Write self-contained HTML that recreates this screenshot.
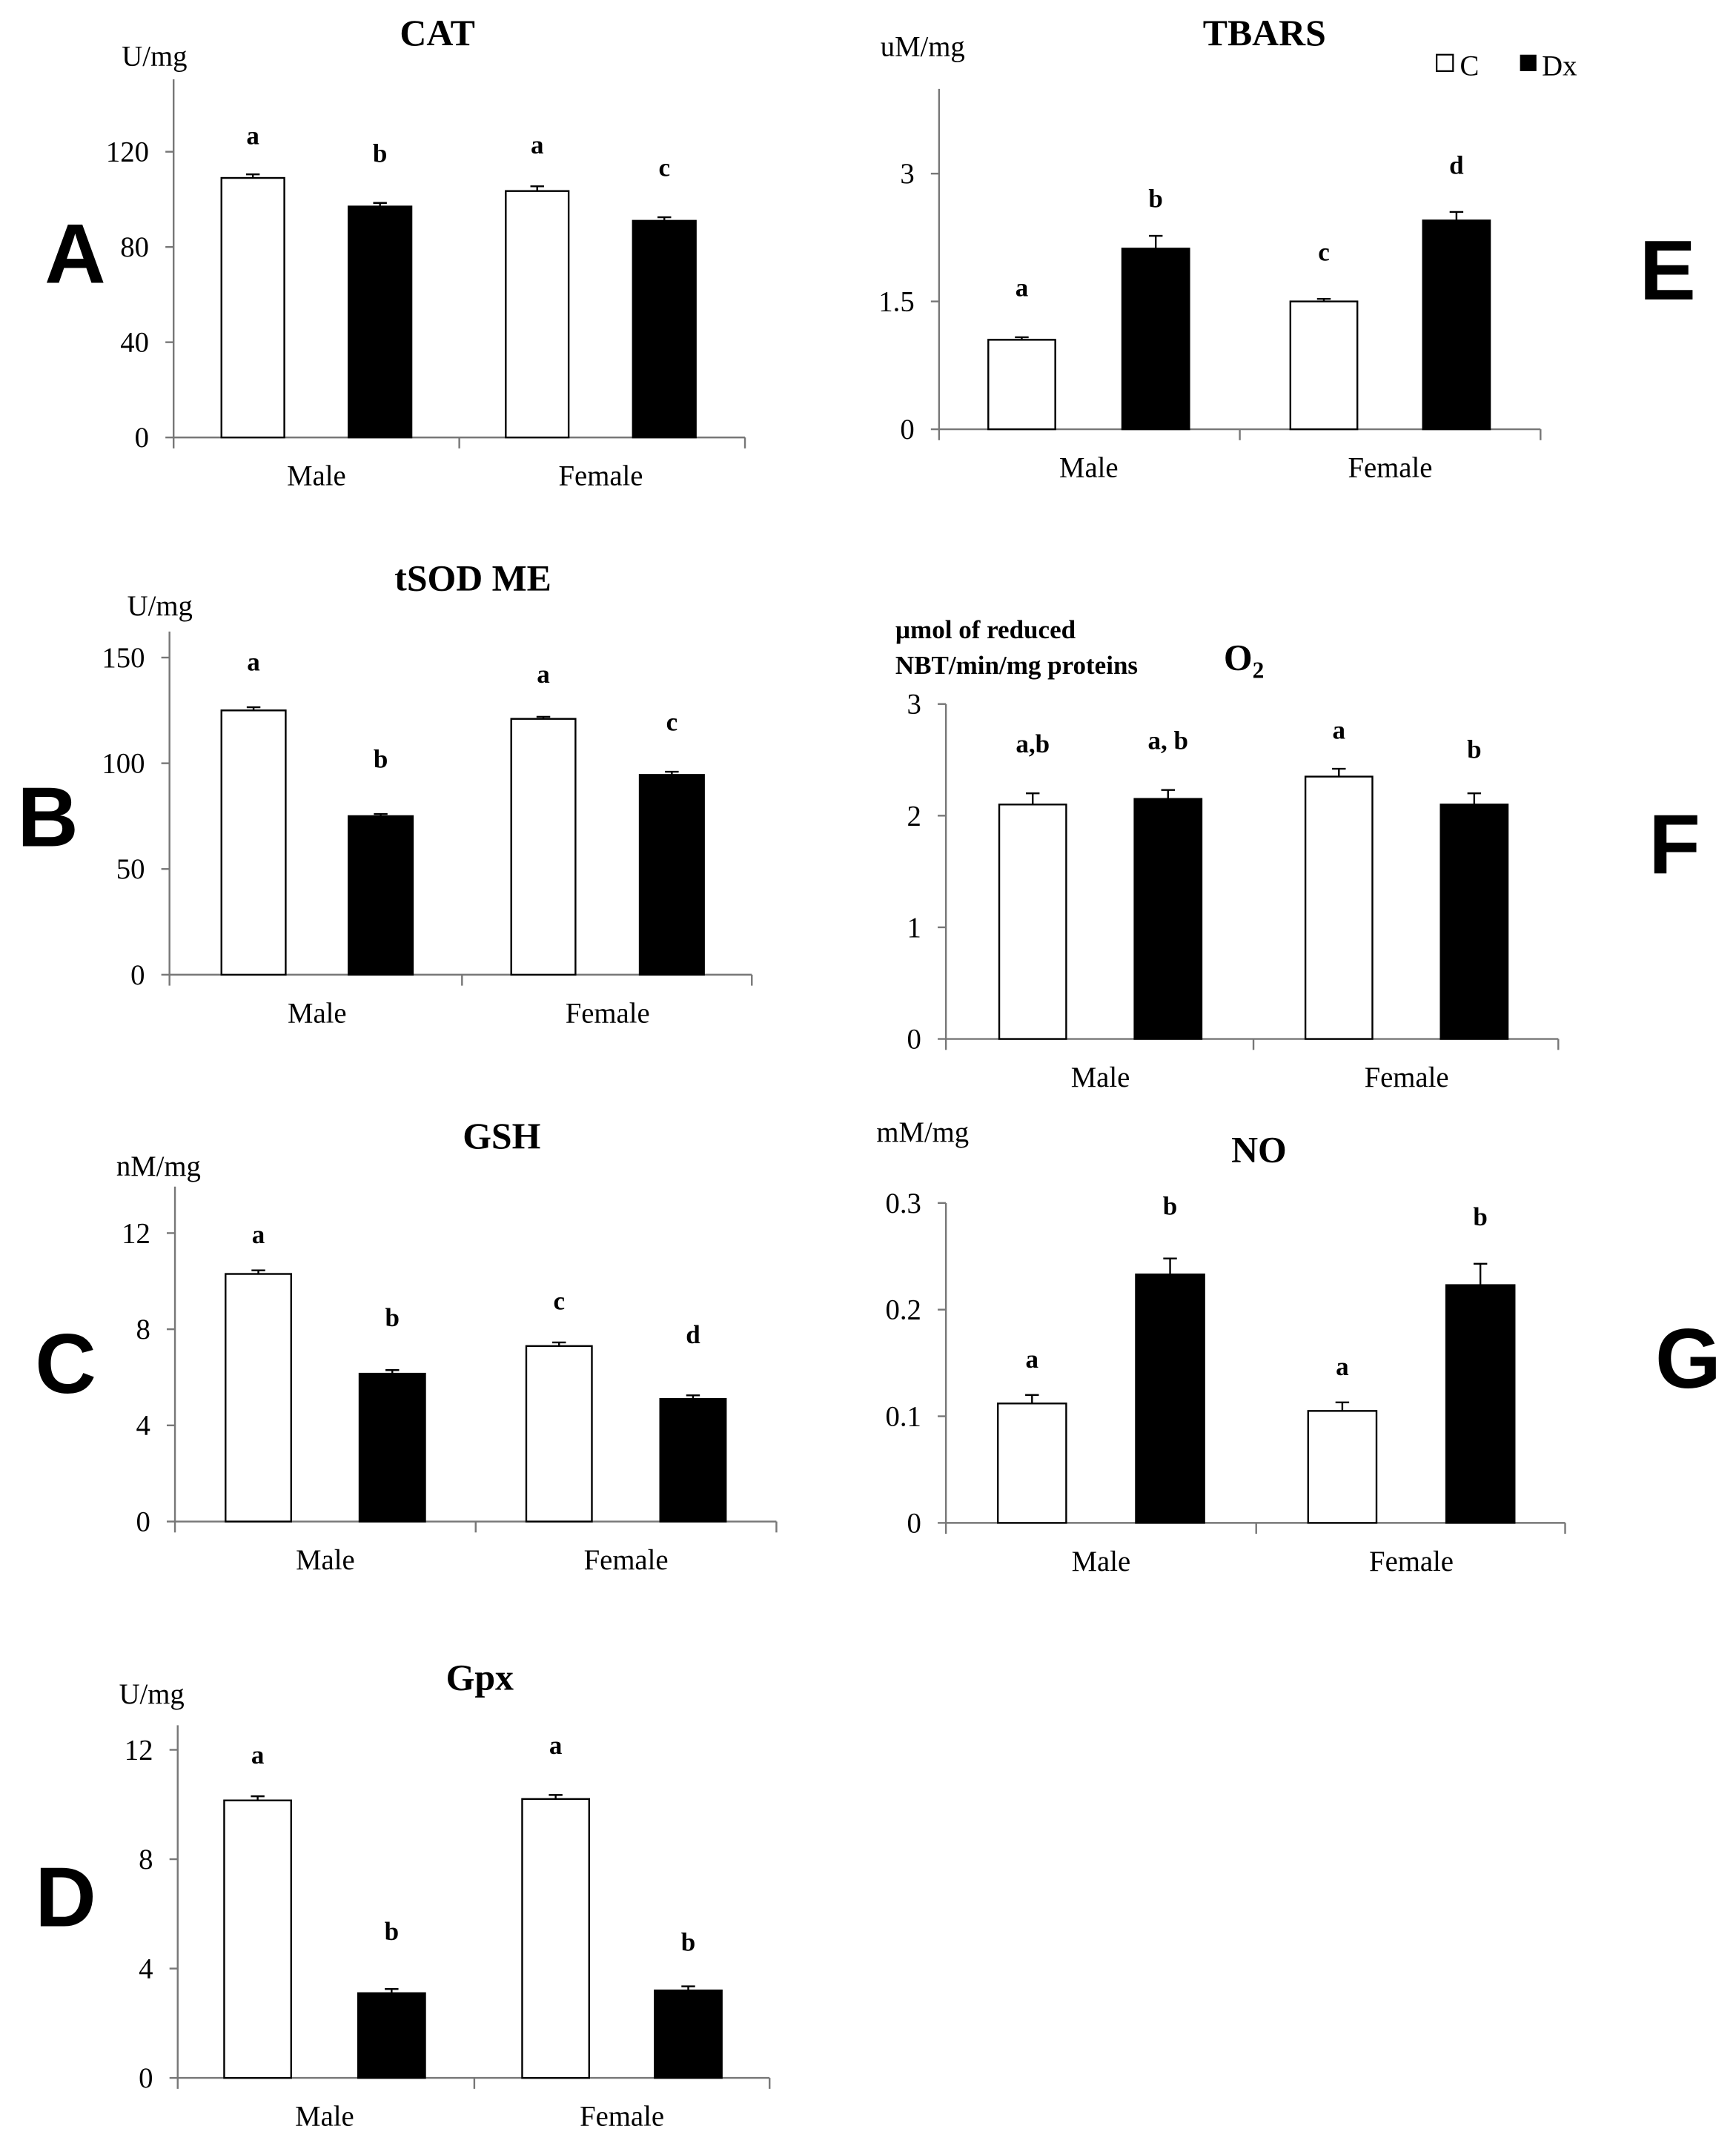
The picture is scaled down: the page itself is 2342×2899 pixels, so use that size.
<!DOCTYPE html>
<html><head><meta charset="utf-8"><style>
html,body{margin:0;padding:0;background:#fff;}
svg{display:block;}
text{font-family:"Liberation Serif",serif;fill:#000;}
.big{font-family:"Liberation Sans",sans-serif;font-weight:bold;font-size:62px;}
.title{font-weight:bold;font-size:27px;}
.lab{font-size:21px;}
.let{font-weight:bold;font-size:19px;}
</style></head><body>
<svg id="fig" width="2342" height="2899" viewBox="0 0 1270 1572" preserveAspectRatio="none" xmlns="http://www.w3.org/2000/svg"></svg>
<script>
// data per panel
const groups = ["Male","Female"];
const catValues = [109, 97, 103.5, 91];
const catErrors = [1.5, 1.5, 2, 1.5];
const catLetters = ["a","b","a","c"];
const catTicks = [0,40,80,120];
const tbarsValues = [1.05, 2.12, 1.5, 2.45];
const tbarsErrors = [0.03, 0.15, 0.03, 0.1];
const tbarsLetters = ["a","b","c","d"];
const tbarsTicks = [0,1.5,3];
const sodValues = [125, 75, 121, 94.5];
const sodErrors = [1.5, 1, 1, 1.5];
const sodLetters = ["a","b","a","c"];
const sodTicks = [0,50,100,150];
const o2Values = [2.1, 2.15, 2.35, 2.1];
const o2Errors = [0.1, 0.08, 0.07, 0.1];
const o2Letters = ["a,b","a, b","a","b"];
const o2Ticks = [0,1,2,3];
const gshValues = [10.3, 6.15, 7.3, 5.1];
const gshErrors = [0.15, 0.15, 0.15, 0.15];
const gshLetters = ["a","b","c","d"];
const gshTicks = [0,4,8,12];
const noValues = [0.112, 0.233, 0.105, 0.223];
const noErrors = [0.008, 0.015, 0.008, 0.02];
const noLetters = ["a","b","a","b"];
const noTicks = [0,0.1,0.2,0.3];
const gpxValues = [10.15, 3.1, 10.2, 3.2];
const gpxErrors = [0.15, 0.15, 0.15, 0.15];
const gpxLetters = ["a","b","a","b"];
const gpxTicks = [0,4,8,12];

const NS="http://www.w3.org/2000/svg";
const svg=document.getElementById('fig');
function mk(tag,attrs,parent,txt){const e=document.createElementNS(NS,tag);for(const k in attrs)e.setAttribute(k,attrs[k]);if(txt!==undefined)e.textContent=txt;(parent||svg).appendChild(e);return e;}

function panel(p){
  const g=mk('g',{});
  
  
  const tmax=p.ticks[p.ticks.length-1];
  const y=v=>p.y0-(v/tmax)*(p.y0-p.yTop);
  const ax=mk('line',{x1:p.ax,y1:p.axTop,x2:p.ax,y2:p.y0,stroke:'#777','stroke-width':1.3},g);
  
  
  const xa=mk('line',{x1:p.ax,y1:p.y0,x2:p.axEnd,y2:p.y0,stroke:'#777','stroke-width':1.3},g);
  
  
  [p.ax,p.mid,p.axEnd].forEach(x=>mk('line',{x1:x,y1:p.y0,x2:x,y2:p.y0+8,stroke:'#777','stroke-width':1.3},g));
  p.ticks.forEach(t=>{
    mk('line',{x1:p.ax-6,y1:y(t),x2:p.ax,y2:y(t),stroke:'#777','stroke-width':1.3},g);
    const tl=mk('text',{x:p.ax-18,y:y(t)+7,'text-anchor':'end',class:'lab'},g,String(t));
    
    
  });
  p.values.forEach((v,i)=>{
    const x=p.barX[i], w=p.barW;
    const top=y(v+p.errors[i]);
    mk('line',{x1:x+w/2,y1:y(v),x2:x+w/2,y2:top,stroke:'#000','stroke-width':1.3},g);
    mk('line',{x1:x+w/2-5,y1:top,x2:x+w/2+5,y2:top,stroke:'#000','stroke-width':1.3},g);
    const r=mk('rect',{x:x,y:y(v),width:w,height:p.y0-y(v),fill:i%2?'#000':'#fff',stroke:'#000','stroke-width':1.3},g);
    
    
    const l=mk('text',{x:x+w/2,y:top-p.letOff[i],'text-anchor':'middle',class:'let'},g,p.letters[i]);
    
    
  });
  groups.forEach((gn,j)=>{
    const cx=(p.barX[2*j]+p.barX[2*j+1]+p.barW)/2;
    const t=mk('text',{x:cx,y:p.y0+35,'text-anchor':'middle',class:'lab'},g,gn);
    
    
  });
  const ti=mk('text',{x:p.title[0],y:p.title[1],'text-anchor':'middle',class:'title'},g,p.titleText);
  
  
  if(p.sub){const s=mk('tspan',{'font-size':'17','dy':'6'},ti,p.sub);}
  if(p.unit){const u=mk('text',{x:p.unit[0],y:p.unit[1],'text-anchor':'middle',class:'lab'},g,p.unitText);
  
  }
  const b=mk('text',{x:p.big[0],y:p.big[1],'text-anchor':'middle',class:'big'},g,p.bigText);
  
  
  return g;
}
panel({key:'cat',titleText:'CAT',title:[320,33],unitText:'U/mg',unit:[113,48],bigText:'A',big:[55,207],
 ax:127,axTop:58,axEnd:545,mid:336,y0:320,yTop:111,ticks:catTicks,values:catValues,errors:catErrors,letters:catLetters,
 barX:[162,255,370,463],barW:46,letOff:[22,30,24,30]});
panel({key:'tbars',titleText:'TBARS',title:[925,33],unitText:'uM/mg',unit:[675,41],bigText:'E',big:[1220,219],
 ax:687,axTop:65,axEnd:1127,mid:907,y0:314,yTop:127,ticks:tbarsTicks,values:tbarsValues,errors:tbarsErrors,letters:tbarsLetters,
 barX:[723,821,944,1041],barW:49,letOff:[30,21,28,28]});
panel({key:'tsod',titleText:'tSOD ME',title:[346,432],unitText:'U/mg',unit:[117,450],bigText:'B',big:[35,619],
 ax:124,axTop:462,axEnd:550,mid:338,y0:713,yTop:481,ticks:sodTicks,values:sodValues,errors:sodErrors,letters:sodLetters,
 barX:[162,255,374,468],barW:47,letOff:[27,34,25,30]});
panel({key:'o2',titleText:'O',sub:'2',title:[910,490],unit:null,bigText:'F',big:[1225,639],
 ax:692,axTop:515,axEnd:1140,mid:917,y0:760,yTop:515,ticks:o2Ticks,values:o2Values,errors:o2Errors,letters:o2Letters,
 barX:[731,830,955,1054],barW:49,letOff:[30,30,22,26]});
const u1=mk('text',{x:655,y:467,style:'font-weight:bold;font-size:19px'},null,'µmol of reduced');


const u2=mk('text',{x:655,y:493,style:'font-weight:bold;font-size:19px'},null,'NBT/min/mg  proteins');


panel({key:'gsh',titleText:'GSH',title:[367,840],unitText:'nM/mg',unit:[116,860],bigText:'C',big:[48,1019],
 ax:128,axTop:868,axEnd:568,mid:348,y0:1113,yTop:902,ticks:gshTicks,values:gshValues,errors:gshErrors,letters:gshLetters,
 barX:[165,263,385,483],barW:48,letOff:[20,32,24,38]});
panel({key:'no',titleText:'NO',title:[921,850],unitText:'mM/mg',unit:[675,835],bigText:'G',big:[1235,1015],
 ax:692,axTop:880,axEnd:1145,mid:919,y0:1114,yTop:880,ticks:noTicks,values:noValues,errors:noErrors,letters:noLetters,
 barX:[730,831,957,1058],barW:50,letOff:[20,32,20,28]});
panel({key:'gpx',titleText:'Gpx',title:[351,1236],unitText:'U/mg',unit:[111,1246],bigText:'D',big:[48,1409],
 ax:130,axTop:1262,axEnd:563,mid:347,y0:1520,yTop:1280,ticks:gpxTicks,values:gpxValues,errors:gpxErrors,letters:gpxLetters,
 barX:[164,262,382,479],barW:49,letOff:[24,36,30,26]});
// legend
const lg=mk('g',{});


mk('rect',{x:1051,y:40,width:12,height:12,fill:'#fff',stroke:'#000','stroke-width':1.2},lg);
mk('text',{x:1068,y:55,class:'lab'},lg,'C');
mk('rect',{x:1112,y:40,width:12,height:12,fill:'#000'},lg);
mk('text',{x:1128,y:55,class:'lab'},lg,'Dx');
</script>
</body></html>
